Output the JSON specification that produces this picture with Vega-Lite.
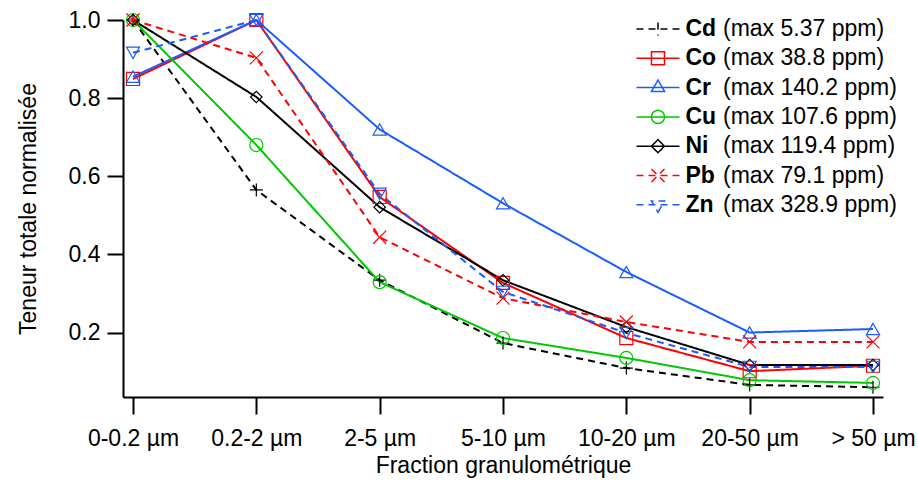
{
  "$schema": "https://vega.github.io/schema/vega-lite/v6.json",
  "autosize": "none",
  "width": 760,
  "height": 377,
  "padding": {"left": 123, "top": 20, "right": 35, "bottom": 84},
  "config": {
    "font": "Liberation Sans",
    "view": {"stroke": null},
    "axis": {"domainColor": "black", "domainWidth": 2, "tickColor": "black", "tickWidth": 2, "labelColor": "black", "titleColor": "black", "labelFontSize": 23, "titleFontSize": 23, "titleFontWeight": "normal", "grid": false},
    "legend": {"labelColor": "black"}
  },
  "data": {"values": [
    {"fraction": "0-0.2 µm", "el": "Cd", "max": "(max 5.37 ppm)", "v": 1.0},
    {"fraction": "0.2-2 µm", "el": "Cd", "max": "(max 5.37 ppm)", "v": 0.565},
    {"fraction": "2-5 µm", "el": "Cd", "max": "(max 5.37 ppm)", "v": 0.334},
    {"fraction": "5-10 µm", "el": "Cd", "max": "(max 5.37 ppm)", "v": 0.173},
    {"fraction": "10-20 µm", "el": "Cd", "max": "(max 5.37 ppm)", "v": 0.109},
    {"fraction": "20-50 µm", "el": "Cd", "max": "(max 5.37 ppm)", "v": 0.066},
    {"fraction": "> 50 µm", "el": "Cd", "max": "(max 5.37 ppm)", "v": 0.060},
    {"fraction": "0-0.2 µm", "el": "Co", "max": "(max 38.8 ppm)", "v": 0.849},
    {"fraction": "0.2-2 µm", "el": "Co", "max": "(max 38.8 ppm)", "v": 1.0},
    {"fraction": "2-5 µm", "el": "Co", "max": "(max 38.8 ppm)", "v": 0.547},
    {"fraction": "5-10 µm", "el": "Co", "max": "(max 38.8 ppm)", "v": 0.327},
    {"fraction": "10-20 µm", "el": "Co", "max": "(max 38.8 ppm)", "v": 0.186},
    {"fraction": "20-50 µm", "el": "Co", "max": "(max 38.8 ppm)", "v": 0.101},
    {"fraction": "> 50 µm", "el": "Co", "max": "(max 38.8 ppm)", "v": 0.115},
    {"fraction": "0-0.2 µm", "el": "Cr", "max": "(max 140.2 ppm)", "v": 0.855},
    {"fraction": "0.2-2 µm", "el": "Cr", "max": "(max 140.2 ppm)", "v": 1.0},
    {"fraction": "2-5 µm", "el": "Cr", "max": "(max 140.2 ppm)", "v": 0.72},
    {"fraction": "5-10 µm", "el": "Cr", "max": "(max 140.2 ppm)", "v": 0.531},
    {"fraction": "10-20 µm", "el": "Cr", "max": "(max 140.2 ppm)", "v": 0.355},
    {"fraction": "20-50 µm", "el": "Cr", "max": "(max 140.2 ppm)", "v": 0.2},
    {"fraction": "> 50 µm", "el": "Cr", "max": "(max 140.2 ppm)", "v": 0.209},
    {"fraction": "0-0.2 µm", "el": "Cu", "max": "(max 107.6 ppm)", "v": 1.0},
    {"fraction": "0.2-2 µm", "el": "Cu", "max": "(max 107.6 ppm)", "v": 0.68},
    {"fraction": "2-5 µm", "el": "Cu", "max": "(max 107.6 ppm)", "v": 0.329},
    {"fraction": "5-10 µm", "el": "Cu", "max": "(max 107.6 ppm)", "v": 0.186},
    {"fraction": "10-20 µm", "el": "Cu", "max": "(max 107.6 ppm)", "v": 0.135},
    {"fraction": "20-50 µm", "el": "Cu", "max": "(max 107.6 ppm)", "v": 0.078},
    {"fraction": "> 50 µm", "el": "Cu", "max": "(max 107.6 ppm)", "v": 0.071},
    {"fraction": "0-0.2 µm", "el": "Ni", "max": "(max 119.4 ppm)", "v": 1.0},
    {"fraction": "0.2-2 µm", "el": "Ni", "max": "(max 119.4 ppm)", "v": 0.803},
    {"fraction": "2-5 µm", "el": "Ni", "max": "(max 119.4 ppm)", "v": 0.521},
    {"fraction": "5-10 µm", "el": "Ni", "max": "(max 119.4 ppm)", "v": 0.334},
    {"fraction": "10-20 µm", "el": "Ni", "max": "(max 119.4 ppm)", "v": 0.214},
    {"fraction": "20-50 µm", "el": "Ni", "max": "(max 119.4 ppm)", "v": 0.117},
    {"fraction": "> 50 µm", "el": "Ni", "max": "(max 119.4 ppm)", "v": 0.117},
    {"fraction": "0-0.2 µm", "el": "Pb", "max": "(max 79.1 ppm)", "v": 1.0},
    {"fraction": "0.2-2 µm", "el": "Pb", "max": "(max 79.1 ppm)", "v": 0.903},
    {"fraction": "2-5 µm", "el": "Pb", "max": "(max 79.1 ppm)", "v": 0.444},
    {"fraction": "5-10 µm", "el": "Pb", "max": "(max 79.1 ppm)", "v": 0.288},
    {"fraction": "10-20 µm", "el": "Pb", "max": "(max 79.1 ppm)", "v": 0.227},
    {"fraction": "20-50 µm", "el": "Pb", "max": "(max 79.1 ppm)", "v": 0.176},
    {"fraction": "> 50 µm", "el": "Pb", "max": "(max 79.1 ppm)", "v": 0.176},
    {"fraction": "0-0.2 µm", "el": "Zn", "max": "(max 328.9 ppm)", "v": 0.916},
    {"fraction": "0.2-2 µm", "el": "Zn", "max": "(max 328.9 ppm)", "v": 1.0},
    {"fraction": "2-5 µm", "el": "Zn", "max": "(max 328.9 ppm)", "v": 0.555},
    {"fraction": "5-10 µm", "el": "Zn", "max": "(max 328.9 ppm)", "v": 0.304},
    {"fraction": "10-20 µm", "el": "Zn", "max": "(max 328.9 ppm)", "v": 0.199},
    {"fraction": "20-50 µm", "el": "Zn", "max": "(max 328.9 ppm)", "v": 0.112},
    {"fraction": "> 50 µm", "el": "Zn", "max": "(max 328.9 ppm)", "v": 0.112}
  ]},
  "encoding": {
    "x": {
      "field": "fraction", "type": "ordinal",
      "scale": {"type": "point", "padding": 0.0811, "domain": ["0-0.2 µm", "0.2-2 µm", "2-5 µm", "5-10 µm", "10-20 µm", "20-50 µm", "> 50 µm"]},
      "axis": {"title": "Fraction granulométrique", "labelAngle": 0, "tickSize": 17, "labelPadding": 13, "titlePadding": 4}
    },
    "y": {
      "field": "v", "type": "quantitative",
      "scale": {"domain": [0.035, 1.0], "nice": false, "zero": false},
      "axis": {"title": "Teneur totale normalisée", "values": [0.2, 0.4, 0.6, 0.8, 1.0], "format": ".1f", "tickSize": 16, "labelPadding": 7, "titlePadding": 28}
    }
  },
  "layer": [
    {
      "mark": {"type": "point", "filled": false, "opacity": 0, "size": 170},
      "encoding": {
        "color": {
          "field": "el", "type": "nominal",
          "scale": {"domain": ["Cd", "Co", "Cr", "Cu", "Ni", "Pb", "Zn"], "range": ["#000000", "#ff0000", "#1a5cff", "#00c800", "#000000", "#ff0000", "#1a5cff"]},
          "legend": {
            "orient": "none", "legendX": 523.5, "legendY": -2.5, "title": null,
            "labelFontWeight": "bold", "labelFontSize": 23, "symbolSize": 170, "symbolOpacity": 1,
            "labelOffset": 16, "rowPadding": 5.3, "padding": 0, "symbolStrokeWidth": 1.5
          }
        },
        "shape": {
          "field": "el", "type": "nominal",
          "scale": {"domain": ["Cd", "Co", "Cr", "Cu", "Ni", "Pb", "Zn"], "range": ["M-3.3,0H3.3M0,-1V1", "M-3.3,0H3.3M-1,-1H1V1H-1Z", "M-3.3,0H3.3M0,-1.15L1,0.58H-1Z", "M-3.3,0H3.3M1,0A1,1,0,1,1,-1,0A1,1,0,1,1,1,0Z", "M-3.3,0H3.3M-1,0L0,-1L1,0L0,1Z", "M-3.3,0H3.3M-1,-1L1,1M-1,1L1,-1", "M-3.3,0H3.3M0,1.15L1,-0.58H-1Z"]},
          "legend": {"title": null}
        },
        "strokeDash": {
          "field": "el", "type": "nominal",
          "scale": {"domain": ["Cd", "Co", "Cr", "Cu", "Ni", "Pb", "Zn"], "range": [[7, 5], [1, 0], [1, 0], [1, 0], [1, 0], [7, 5], [7, 5]]},
          "legend": {"title": null}
        }
      }
    },
    {
      "mark": {"type": "line"},
      "encoding": {
        "color": {"field": "el", "type": "nominal", "legend": null},
        "strokeDash": {"field": "el", "type": "nominal", "legend": null},
        "strokeWidth": {
          "field": "max", "type": "ordinal",
          "scale": {"type": "point", "domain": ["(max 5.37 ppm)", "(max 38.8 ppm)", "(max 140.2 ppm)", "(max 107.6 ppm)", "(max 119.4 ppm)", "(max 79.1 ppm)", "(max 328.9 ppm)"], "range": [2, 2]},
          "legend": {"orient": "none", "legendX": 577, "legendY": -2.5, "title": null, "labelFontSize": 23, "symbolSize": 170, "symbolOpacity": 0, "symbolStrokeWidth": 0, "labelOffset": 0, "rowPadding": 5.3, "padding": 0, "labelLimit": 300}
        }
      }
    },
    {
      "transform": [{"filter": "datum.el === 'Cd'"}],
      "mark": {"type": "point", "filled": false, "shape": "M-1,0H1M0,-1V1", "color": "#000000", "size": 170, "strokeWidth": 1.2, "opacity": 1}
    },
    {
      "transform": [{"filter": "datum.el === 'Co'"}],
      "mark": {"type": "point", "filled": false, "shape": "square", "color": "#ff0000", "size": 170, "strokeWidth": 1.2, "opacity": 1}
    },
    {
      "transform": [{"filter": "datum.el === 'Cr'"}],
      "mark": {"type": "point", "filled": false, "shape": "triangle-up", "color": "#1a5cff", "size": 170, "strokeWidth": 1.2, "opacity": 1}
    },
    {
      "transform": [{"filter": "datum.el === 'Cu'"}],
      "mark": {"type": "point", "filled": false, "shape": "circle", "color": "#00c800", "size": 170, "strokeWidth": 1.2, "opacity": 1}
    },
    {
      "transform": [{"filter": "datum.el === 'Ni'"}],
      "mark": {"type": "point", "filled": false, "shape": "diamond", "color": "#000000", "size": 130, "strokeWidth": 1.2, "opacity": 1}
    },
    {
      "transform": [{"filter": "datum.el === 'Pb'"}],
      "mark": {"type": "point", "filled": false, "shape": "M-1,-1L1,1M-1,1L1,-1", "color": "#ff0000", "size": 170, "strokeWidth": 1.2, "opacity": 1}
    },
    {
      "transform": [{"filter": "datum.el === 'Zn'"}],
      "mark": {"type": "point", "filled": false, "shape": "triangle-down", "color": "#1a5cff", "size": 170, "strokeWidth": 1.2, "opacity": 1}
    }
  ]
}
